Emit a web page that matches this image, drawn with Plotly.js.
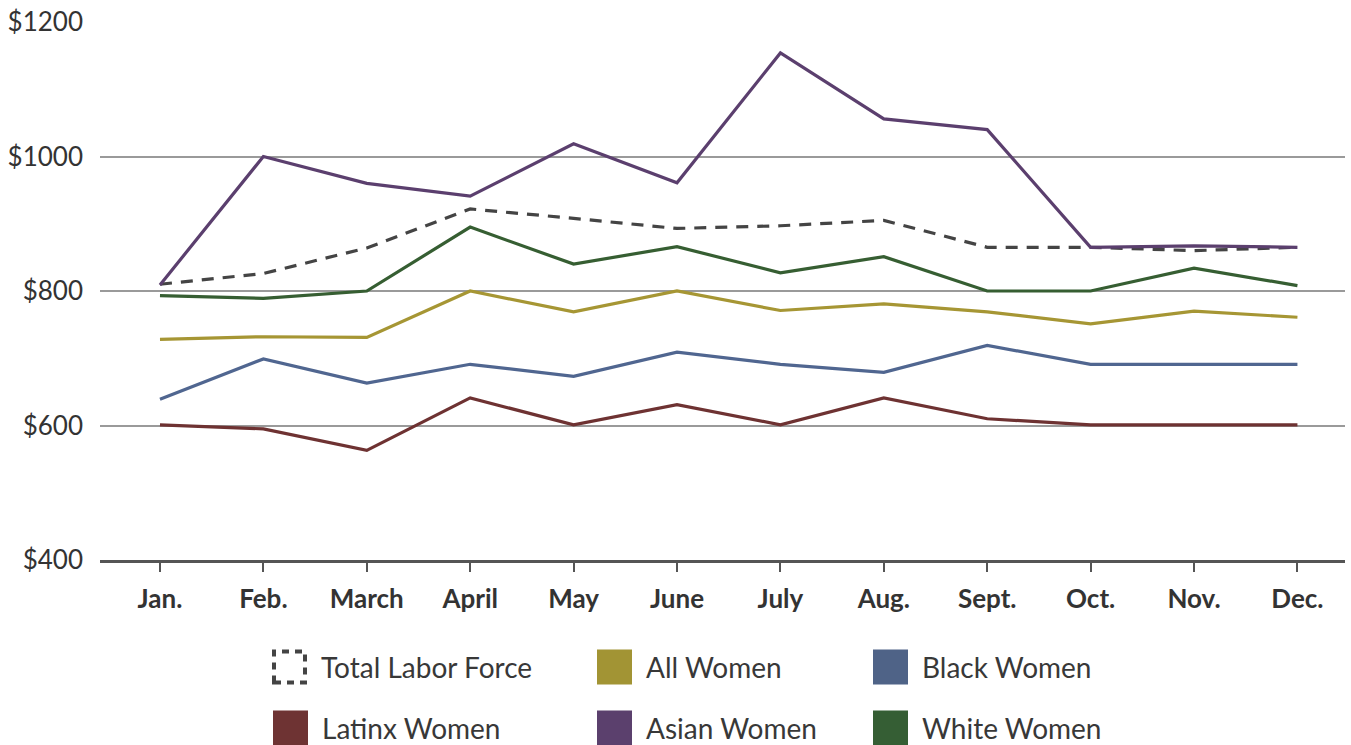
<!DOCTYPE html>
<html>
<head>
<meta charset="utf-8">
<script src="https://cdn.plot.ly/plotly-3.0.1.min.js"></script>
<style>
html,body{margin:0;padding:0;background:#fff;}
#chart{width:1351px;height:745px;}
</style>
</head>
<body>
<div id="chart"></div>
<script>
const months = ["Jan.","Feb.","March","April","May","June","July","Aug.","Sept.","Oct.","Nov.","Dec."];
const totalLaborForce = [810, 826, 864, 922, 908, 893, 897, 905, 865, 865, 860, 865];
const allWomen        = [728, 732, 731, 800, 769, 800, 771, 781, 769, 751, 770, 761];
const blackWomen      = [639, 699, 663, 691, 673, 709, 691, 679, 719, 691, 691, 691];
const latinxWomen     = [601, 595, 563, 641, 601, 631, 601, 641, 610, 601, 601, 601];
const asianWomen      = [809, 1000, 960, 941, 1019, 961, 1154, 1056, 1040, 865, 867, 865];
const whiteWomen      = [793, 789, 800, 895, 840, 866, 827, 851, 800, 800, 834, 808];
const yTicks = [400, 600, 800, 1000, 1200];
const yTickLabels = ["$400", "$600", "$800", "$1000", "$1200"];

const FONT = "Lato, 'Noto Sans', sans-serif";
const W = 1351, H = 745;
const M = {l: 100, r: 6, t: 22, b: 185};
const PW = W - M.l - M.r, PH = H - M.t - M.b;
const px = x => (x - M.l) / PW;
const py = y => (H - M.b - y) / PH;

const series = [
  {name: "Total Labor Force", y: totalLaborForce, color: "#444444", dash: "12px,9px"},
  {name: "Latinx Women", y: latinxWomen, color: "#6e3232", dash: "solid"},
  {name: "Black Women", y: blackWomen, color: "#506690", dash: "solid"},
  {name: "All Women", y: allWomen, color: "#a69634", dash: "solid"},
  {name: "White Women", y: whiteWomen, color: "#365e32", dash: "solid"},
  {name: "Asian Women", y: asianWomen, color: "#5b3f6e", dash: "solid"}
];

const traces = series.map(s => ({
  type: "scatter", mode: "lines", name: s.name,
  x: months, y: s.y,
  line: {color: s.color, width: 3.2, dash: s.dash},
  showlegend: false, hoverinfo: "x+y+name"
}));

// custom legend (square swatches)
const legendItems = [
  {name: "Total Labor Force", color: "#444444", dashed: true, x: 272, y: 667},
  {name: "All Women", color: "#a29434", x: 597, y: 667},
  {name: "Black Women", color: "#4f6387", x: 873, y: 667},
  {name: "Latinx Women", color: "#6e3333", x: 273, y: 728},
  {name: "Asian Women", color: "#5b406d", x: 597, y: 728},
  {name: "White Women", color: "#355e34", x: 873, y: 728}
];
const shapes = [];
const annotations = [];
legendItems.forEach(it => {
  const s = 35;
  if (it.dashed) {
    shapes.push({type: "rect", xref: "paper", yref: "paper",
      x0: px(it.x + 2), x1: px(it.x + s - 2), y0: py(it.y + s/2 - 2), y1: py(it.y - s/2 + 2),
      line: {color: it.color, width: 4, dash: "7px,6px"}, fillcolor: "rgba(0,0,0,0)"});
  } else {
    shapes.push({type: "rect", xref: "paper", yref: "paper",
      x0: px(it.x), x1: px(it.x + s), y0: py(it.y + s/2), y1: py(it.y - s/2),
      line: {width: 0}, fillcolor: it.color});
  }
  annotations.push({xref: "paper", yref: "paper", x: px(it.x + 47), y: py(it.y),
    xanchor: "left", yanchor: "middle", showarrow: false, text: it.name,
    font: {family: FONT, size: 28, color: "#383838"}});
});

const layout = {
  width: W, height: H,
  margin: M,
  paper_bgcolor: "#ffffff", plot_bgcolor: "#ffffff",
  showlegend: false,
  font: {family: FONT, color: "#333333"},
  xaxis: {
    type: "category", range: [-0.58, 11.46],
    showgrid: false, zeroline: false,
    showline: true, linecolor: "#555555", linewidth: 3,
    ticks: "outside", ticklen: 9, tickwidth: 2, tickcolor: "#555555",
    tickfont: {family: FONT, size: 26, color: "#333333", weight: "bold"},
    ticklabelstandoff: 5
  },
  yaxis: {
    range: [400, 1200], tickvals: yTicks, ticktext: yTickLabels,
    showgrid: true, gridcolor: "#9a9a9a", gridwidth: 2,
    zeroline: false, showline: false, ticks: "",
    tickfont: {family: FONT, size: 26, color: "#333333"},
    ticklabelstandoff: 16
  },
  shapes: shapes,
  annotations: annotations
};

Plotly.newPlot("chart", traces, layout, {displayModeBar: false, staticPlot: true});
</script>
</body>
</html>
